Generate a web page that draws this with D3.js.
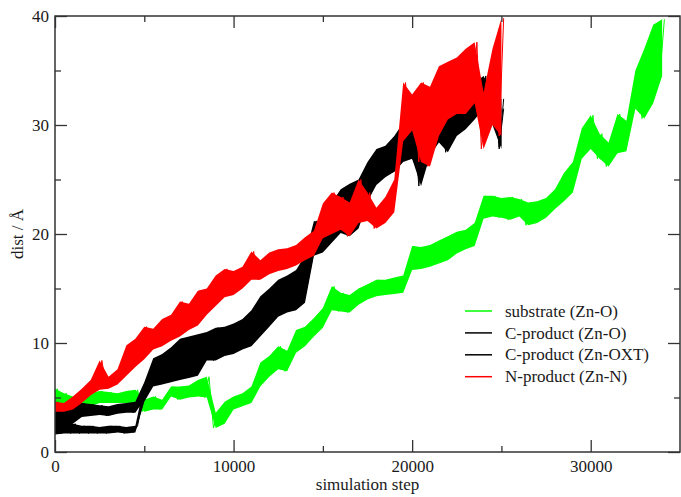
<!DOCTYPE html>
<html><head><meta charset="utf-8">
<script src="https://cdn.jsdelivr.net/npm/d3@7"></script>
<style>
body{margin:0;background:#fff}
svg{display:block}
</style>
</head><body>
<svg id="chart" width="681" height="497"></svg>
<script>
// sampling grid (simulation steps)
const steps = [0,500,1000,1500,2000,2500,3000,3500,4000,4500,5000,5500,6000,6500,7000,7500,8000,8500,9000,9500,
  10000,10500,11000,11500,12000,12500,13000,13500,14000,14500,15000,15500,16000,16500,17000,17500,18000,18500,19000,19500,
  20000,20500,21000,21500,22000,22500,23000,23500,24000,24500,25000,25500,26000,26500,27000,27500,28000,28500,29000,29500,
  30000,30500,31000,31500,32000,32500,33000,33500,34000];

const xTicks = [0,10000,20000,30000];
const xMinor = [5000,15000,25000];
const yTicks = [0,10,20,30,40];
const yMinor = [5,15,25,35];

const seriesNames = ["substrate (Zn-O)","C-product (Zn-O)","C-product (Zn-OXT)","N-product (Zn-N)"];
const seriesColors = ["#00ff00","#000000","#000000","#ff0000"];

// band (min / max) of each noisy trace per 500-step window
const substrateLo = [4.4,4.2,3.9,4.0,4.2,4.5,4.5,4.5,4.5,4.5,3.7,3.9,3.9,5.1,4.8,5.0,5.1,5.0,2.2,2.6,
  3.9,4.2,4.5,6.0,6.9,7.6,7.4,9.1,9.7,10.6,11.4,13.0,12.9,12.8,13.5,14.0,14.3,14.4,14.5,14.6,
  16.7,16.8,17.0,17.3,17.6,18.2,18.6,18.9,21.4,21.6,21.5,21.3,21.6,20.8,21.0,21.5,22.3,23.0,23.8,26.9,
  27.8,26.9,26.2,27.4,27.6,31.5,30.6,32.0,34.5];
const substrateHi = [5.8,5.4,5.1,5.3,5.4,5.6,5.5,5.4,5.6,5.7,4.8,5.1,4.8,6.0,6.0,6.1,6.6,6.9,3.6,4.6,
  5.1,5.4,6.0,8.2,8.8,9.7,9.3,11.2,11.5,12.3,13.2,15.2,14.6,14.4,15.0,15.4,15.8,15.8,16.0,16.2,
  18.9,18.8,19.0,19.4,19.8,20.2,20.4,21.0,23.5,23.5,23.3,23.4,23.2,22.9,23.0,23.3,24.1,25.6,26.6,29.7,
  30.9,29.2,28.4,31.0,30.4,35.0,37.0,39.2,39.7];

const cZnOLo = [2.0,2.2,2.6,3.2,3.3,3.4,3.3,3.5,3.6,3.6,4.8,6.5,6.6,7.0,7.9,7.8,8.0,8.6,8.9,9.0,
  9.3,9.6,10.2,10.8,11.8,12.5,13.0,13.3,14.0,18.2,18.6,19.4,20.5,20.7,21.0,23.0,24.5,25.2,25.7,26.6,
  26.9,24.4,27.2,28.4,27.5,29.0,29.6,30.5,31.5,30.0,27.8];
const cZnOHi = [4.6,4.4,4.5,4.5,4.4,4.3,4.2,4.4,4.5,4.6,6.4,8.6,9.0,9.6,10.4,10.6,10.8,11.0,11.4,11.5,
  11.8,12.2,13.0,14.3,15.0,15.8,16.2,16.7,18.0,21.2,21.0,22.9,24.1,24.6,25.0,26.6,27.8,28.1,29.0,30.2,
  29.8,28.4,31.5,32.4,31.5,32.0,32.7,33.9,34.5,33.0,32.4];

const cZnOXTLo = [1.6,1.7,1.7,1.7,1.7,1.7,1.7,1.8,1.7,1.8,4.6,6.0,6.2,6.4,6.6,6.8,7.0,8.4,8.4,8.8,
  9.0,9.4,9.7,10.6,11.5,12.4,12.8,13.0,13.7,18.0,18.3,19.2,20.1,19.8,20.5,22.9,24.7,25.4,25.7,26.8,
  26.9,25.0,27.5,28.6,27.8,29.2,29.8,30.9,31.2,30.2,28.0];
const cZnOXTHi = [3.2,3.0,2.6,2.4,2.4,2.3,2.4,2.4,2.3,2.4,6.2,8.0,8.4,9.0,9.6,9.8,10.0,10.6,10.8,11.0,
  11.2,11.8,12.4,13.6,14.4,15.2,15.8,16.2,17.0,20.6,20.6,22.4,23.6,24.0,24.7,26.0,27.3,27.8,28.5,29.6,
  29.2,28.0,31.0,31.8,31.0,31.6,32.2,33.4,34.0,32.7,31.5];

const nZnNLo = [3.7,3.7,3.9,4.5,5.2,5.7,5.8,6.2,7.0,7.8,8.5,9.4,9.7,10.2,10.6,11.2,11.6,12.6,13.4,14.2,
  14.4,15.0,15.8,15.8,16.3,16.6,16.8,17.1,17.6,18.0,19.6,20.0,20.4,19.8,21.0,21.2,20.5,21.0,22.0,28.5,
  29.5,26.6,26.2,29.0,30.5,31.0,31.0,32.0,27.8,30.0,29.0];
const nZnNHi = [4.6,4.5,5.1,5.8,6.6,8.4,6.9,7.6,9.8,10.4,11.5,11.3,12.2,12.6,13.8,13.6,14.8,15.0,16.2,16.8,
  16.6,17.0,18.4,17.6,18.3,18.6,18.7,19.0,19.7,20.3,22.8,23.8,23.4,22.9,25.0,23.8,22.4,23.4,25.0,33.9,
  32.8,33.9,33.5,35.4,35.8,36.2,37.0,37.6,33.0,37.0,39.8];

const seriesLo = [substrateLo, cZnOLo, cZnOXTLo, nZnNLo];
const seriesHi = [substrateHi, cZnOHi, cZnOXTHi, nZnNHi];

const FONT = "'Liberation Serif','Times New Roman',Times,'DejaVu Serif','Noto Serif',serif";

const svg = d3.select("#chart");
const L = 55, R = 680, T = 16, B = 452;
const x = d3.scaleLinear().domain([0, 35000]).range([L, R]);
const y = d3.scaleLinear().domain([0, 40]).range([B, T]);

svg.append("defs").append("clipPath").attr("id","clip")
  .append("rect").attr("x",L).attr("y",T).attr("width",R-L).attr("height",B-T);

const plot = svg.append("g").attr("clip-path","url(#clip)");
const half = 125;

seriesNames.forEach((name, k) => {
  const lo = seriesLo[k], hi = seriesHi[k];
  const pts = lo.map((v, i) => ({s: steps[i], lo: v, hi: hi[i]}));
  const area = d3.area().x(d => x(d.s)).y0(d => y(d.lo)).y1(d => y(d.hi));
  plot.append("path").attr("d", area(pts)).attr("fill", seriesColors[k]).attr("stroke","none");
  const zig = [];
  pts.forEach(d => { zig.push([d.s - half, d.lo]); zig.push([d.s + half, d.hi]); });
  const line = d3.line().x(d => x(d[0])).y(d => y(d[1]));
  plot.append("path").attr("d", line(zig)).attr("fill","none")
    .attr("stroke", seriesColors[k]).attr("stroke-width", 1);
});

// axes with inward ticks on all four sides
function styleAxis(g){
  g.attr("font-family", FONT);
  g.select(".domain").remove();
  g.selectAll("line").attr("stroke","#333").attr("stroke-width",1.3);
}
const fmt = d3.format("d");

svg.append("g").attr("transform",`translate(0,${B})`)
  .call(d3.axisBottom(x).tickValues(xTicks).tickSize(-12).tickPadding(8).tickFormat(fmt))
  .call(styleAxis)
  .call(g => g.selectAll("text").attr("font-size",17).attr("fill","#1a1a1a").attr("font-family",FONT));
svg.append("g").attr("transform",`translate(0,${B})`)
  .call(d3.axisBottom(x).tickValues(xMinor).tickSize(-6).tickFormat(""))
  .call(styleAxis);
svg.append("g").attr("transform",`translate(0,${T})`)
  .call(d3.axisTop(x).tickValues(xTicks).tickSize(-12).tickFormat(""))
  .call(styleAxis);
svg.append("g").attr("transform",`translate(0,${T})`)
  .call(d3.axisTop(x).tickValues(xMinor).tickSize(-6).tickFormat(""))
  .call(styleAxis);

svg.append("g").attr("transform",`translate(${L},0)`)
  .call(d3.axisLeft(y).tickValues(yTicks).tickSize(-12).tickPadding(6).tickFormat(fmt))
  .call(styleAxis)
  .call(g => g.selectAll("text").attr("font-size",17).attr("fill","#1a1a1a").attr("font-family",FONT));
svg.append("g").attr("transform",`translate(${L},0)`)
  .call(d3.axisLeft(y).tickValues(yMinor).tickSize(-6).tickFormat(""))
  .call(styleAxis);
svg.append("g").attr("transform",`translate(${R},0)`)
  .call(d3.axisRight(y).tickValues(yTicks).tickSize(-12).tickFormat(""))
  .call(styleAxis);
svg.append("g").attr("transform",`translate(${R},0)`)
  .call(d3.axisRight(y).tickValues(yMinor).tickSize(-6).tickFormat(""))
  .call(styleAxis);

svg.append("rect").attr("x",L).attr("y",T).attr("width",R-L).attr("height",B-T)
  .attr("fill","none").attr("stroke","#333").attr("stroke-width",1.5);

// axis titles
svg.append("text").attr("x",(L+R)/2).attr("y",490).attr("text-anchor","middle")
  .attr("font-family",FONT).attr("fill","#1a1a1a")
  .attr("font-size",17).text("simulation step");
svg.append("text").attr("transform",`translate(23,${(T+B)/2}) rotate(-90)`)
  .attr("font-family",FONT).attr("fill","#1a1a1a")
  .attr("text-anchor","middle").attr("font-size",17).text("dist / Å");

// legend
const leg = svg.append("g");
seriesNames.forEach((name, k) => {
  const cy = 311 + k * 21.9;
  leg.append("line").attr("x1",465).attr("x2",492).attr("y1",cy).attr("y2",cy)
    .attr("stroke", seriesColors[k]).attr("stroke-width",1.5);
  leg.append("text").attr("x",505).attr("y",cy).attr("dy","0.33em")
    .attr("font-family",FONT).attr("fill","#1a1a1a")
    .attr("font-size",17).text(name);
});
</script>
</body></html>
